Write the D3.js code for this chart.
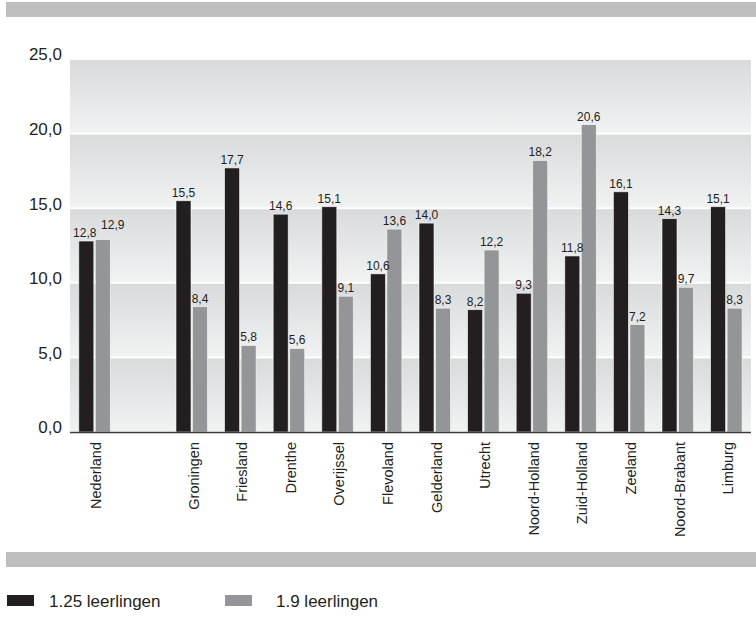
<!DOCTYPE html>
<html>
<head>
<meta charset="utf-8">
<script src="https://cdn.jsdelivr.net/npm/d3@7"></script>
<style>
  html, body { margin: 0; padding: 0; background: #ffffff; }
  svg { display: block; font-family: "Liberation Sans", Arial, sans-serif; }
</style>
</head>
<body>
<svg id="chart" width="756" height="617"></svg>
<script>
// Categories along the x axis; the empty string leaves a gap after the national figure
const categories = ["Nederland", "", "Groningen", "Friesland", "Drenthe", "Overijssel", "Flevoland",
  "Gelderland", "Utrecht", "Noord-Holland", "Zuid-Holland", "Zeeland", "Noord-Brabant", "Limburg"];
const values125 = [12.8, null, 15.5, 17.7, 14.6, 15.1, 10.6, 14.0, 8.2, 9.3, 11.8, 16.1, 14.3, 15.1];
const values19  = [12.9, null, 8.4, 5.8, 5.6, 9.1, 13.6, 8.3, 12.2, 18.2, 20.6, 7.2, 9.7, 8.3];
const seriesNames = ["1.25 leerlingen", "1.9 leerlingen"];
const yTicks = [0, 5, 10, 15, 20, 25];

const colors = { s125: "#231f20", s19: "#939598", band: "#bcbec0", text: "#231f20" };

const svg = d3.select("#chart");
const W = 756;
const plot = { left: 70, right: 751, top: 59, bottom: 432 };

const nl = d3.formatLocale({ decimal: ",", thousands: ".", grouping: [3], currency: ["€", ""] });
const fmt = nl.format(".1f");

const x = d3.scaleBand().domain(d3.range(categories.length))
  .range([plot.left, 750.4]).paddingInner(0).paddingOuter(0);
const y = d3.scaleLinear().domain([0, 25]).range([plot.bottom, plot.top]);

// Gradient used for each horizontal band between gridlines
const defs = svg.append("defs");
const grad = defs.append("linearGradient").attr("id", "bandGrad")
  .attr("x1", 0).attr("y1", 0).attr("x2", 0).attr("y2", 1);
grad.append("stop").attr("offset", "0%").attr("stop-color", "#d9dadc");
grad.append("stop").attr("offset", "100%").attr("stop-color", "#f1f2f2");

// Grey rules at top and bottom
svg.append("rect").attr("x", 6).attr("y", 2).attr("width", W - 6).attr("height", 15).attr("fill", colors.band);
svg.append("rect").attr("x", 6).attr("y", 552).attr("width", W - 6).attr("height", 15).attr("fill", colors.band);

// Background bands, separated by white gridlines
const bands = d3.pairs(yTicks);
svg.append("g").selectAll("rect").data(bands).join("rect")
  .attr("x", plot.left)
  .attr("width", plot.right - plot.left)
  .attr("y", d => y(d[1]) + 1)
  .attr("height", d => y(d[0]) - y(d[1]) - 2)
  .attr("fill", "url(#bandGrad)");

// Y axis labels
const yAxis = d3.axisLeft(y).tickValues(yTicks).tickFormat(fmt).tickSize(0).tickPadding(8);
const gy = svg.append("g").attr("transform", `translate(${plot.left},0)`).call(yAxis);
gy.select(".domain").remove();
gy.selectAll("text")
  .attr("font-size", 17).attr("fill", colors.text)
  .attr("font-family", "'Liberation Sans', Arial, sans-serif")
  .attr("dy", "0.05em");

// Bars
const bw = 15;
const rows = categories.map((c, i) => ({ i, c, a: values125[i], b: values19[i] })).filter(d => d.a != null);
const gBars = svg.append("g");
const cx = i => x(i) + x.bandwidth() / 2;

gBars.selectAll("rect.a").data(rows).join("rect").attr("class", "a")
  .attr("x", d => cx(d.i) - bw - 0.5).attr("width", bw)
  .attr("y", d => y(d.a)).attr("height", d => y(0) - y(d.a))
  .attr("fill", colors.s125).attr("stroke", "#ffffff").attr("stroke-opacity", 0.7).attr("stroke-width", 0.8);
gBars.selectAll("rect.b").data(rows).join("rect").attr("class", "b")
  .attr("x", d => cx(d.i) + 1).attr("width", bw)
  .attr("y", d => y(d.b)).attr("height", d => y(0) - y(d.b))
  .attr("fill", colors.s19).attr("stroke", "#ffffff").attr("stroke-opacity", 0.7).attr("stroke-width", 0.8);

// Value labels above each bar; when both bars are nearly equal the second label steps aside
const clash = d => Math.abs(y(d.a) - y(d.b)) < 12;
const gLab = svg.append("g").attr("font-size", 12).attr("fill", colors.text).attr("text-anchor", "middle");
gLab.selectAll("text.a").data(rows).join("text").attr("class", "a")
  .attr("x", d => cx(d.i) - bw / 2 - 0.5 - (clash(d) ? 1.5 : 0))
  .attr("y", d => y(d.a) - 4).text(d => fmt(d.a));
gLab.selectAll("text.b").data(rows).join("text").attr("class", "b")
  .attr("x", d => cx(d.i) + bw / 2 + 1 + (clash(d) ? 10 : 0))
  .attr("y", d => y(d.b) - 4 - (clash(d) ? 7 : 0)).text(d => fmt(d.b));

// Baseline
svg.append("line").attr("x1", plot.left).attr("x2", plot.right)
  .attr("y1", y(0) + 0.5).attr("y2", y(0) + 0.5)
  .attr("stroke", "#3a3a3a").attr("stroke-width", 1.5);

// Category labels, rotated
svg.append("g").selectAll("text").data(rows).join("text")
  .attr("transform", d => `translate(${cx(d.i) + 2},442) rotate(-90)`)
  .attr("text-anchor", "end").attr("dy", "0.35em")
  .attr("font-size", 14.5).attr("fill", colors.text)
  .text(d => d.c);

// Legend
const legend = svg.append("g");
const legendItems = [
  { name: seriesNames[0], color: colors.s125, sx: 7, tx: 49 },
  { name: seriesNames[1], color: colors.s19, sx: 225, tx: 276 }
];
legend.selectAll("rect").data(legendItems).join("rect")
  .attr("x", d => d.sx).attr("y", 595).attr("width", 27).attr("height", 11).attr("fill", d => d.color);
legend.selectAll("text").data(legendItems).join("text")
  .attr("x", d => d.tx).attr("y", 607).attr("font-size", 17).attr("fill", colors.text)
  .text(d => d.name);
</script>
</body>
</html>
